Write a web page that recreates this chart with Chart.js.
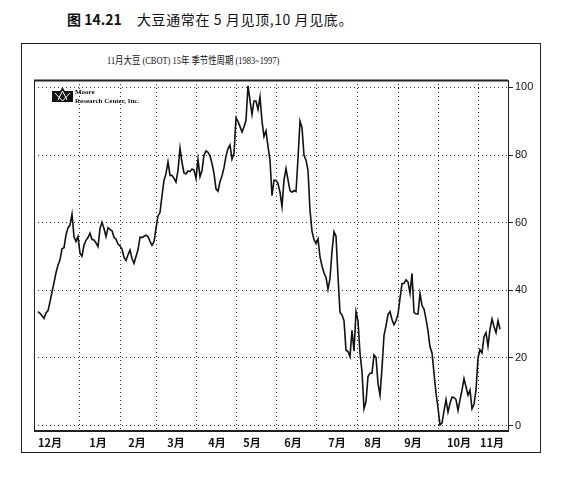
<!DOCTYPE html>
<html>
<head>
<meta charset="utf-8">
<script src="https://cdn.jsdelivr.net/npm/chart.js@4/dist/chart.umd.min.js"></script>
<style>
  html, body { margin: 0; padding: 0; background: #fff; }
  body { width: 566px; height: 481px; position: relative; overflow: hidden; }
  .head { position: absolute; top: 11px; font-size: 14px; line-height: 16px; font-family: "Noto Sans CJK SC", sans-serif; color: #111; white-space: pre; }
  #box { position: absolute; left: 21px; top: 43px; width: 518px; height: 408px; border: 1.5px solid #222; }
  #subtitle { position: absolute; left: 107px; top: 55px; font-size: 10px; line-height: 12px; font-family: "Liberation Serif", "Noto Sans CJK SC", serif; color: #111; white-space: pre; transform: scaleX(0.84); transform-origin: left top; }
  #wrap { position: absolute; left: 21px; top: 43px; width: 520px; height: 410px; }
</style>
</head>
<body>
<div class="head" style="left:67px;font-weight:bold;">图 14.21</div>
<div class="head" style="left:137px;letter-spacing:0.6px;">大豆通常在 5 月见顶,10 月见底。</div>
<div id="box"></div>
<div id="subtitle">11月大豆 (CBOT) 15年 季节性周期 (1983~1997)</div>
<div id="wrap"><canvas id="seasonal-soybeans"></canvas></div>
<script>
// month names under the axis, and where they sit (trading day index)
const months = ['12月', '1月', '2月', '3月', '4月', '5月', '6月', '7月', '8月', '9月', '10月', '11月'];
const monthLabelDay = [6, 30, 49.5, 69, 89.5, 107, 127.5, 149.5, 167.5, 187.5, 210.5, 227];
// first trading day of each month -> vertical grid lines
const monthStartDay = [20.5, 41, 59, 79, 99, 119.5, 139, 159.5, 180, 200, 220];
const yTicks = [0, 20, 40, 60, 80, 100];

// seasonal index, 0 = yearly low, 100 = yearly high
const seasonalIndex = [
  33.7, 33.2, 32.5, 31.7, 33.3, 34, 36.6, 39.5, 42.3, 45.2,
  47.4, 49, 52.3, 52.6, 56.4, 58.5, 59.3, 62.5, 55.9, 54.4,
  55.9, 51, 50.1, 53.4, 54.8, 55.6, 56.9, 55, 54.9, 54,
  52.9, 58.3, 60.1, 58.3, 55.9, 58.5, 58, 57.6, 55.7, 55.1,
  53.7, 53.1, 52.2, 49.7, 48.8, 50.5, 51.9, 49.4, 48, 50,
  52, 55.7, 55.6, 56, 56.3, 55.9, 54.5, 53.3, 54.4, 58.3,
  62, 63, 68, 72.5, 74.5, 78, 74, 74, 73.1, 72,
  75.5, 82, 77.8, 74.7, 74.4, 75.3, 75.1, 75.9, 75.6, 73.1,
  78.7, 73.6, 75.4, 80, 81.2, 80.8, 79.8, 77.5, 74.6, 70,
  69.3, 72.1, 73.9, 76.3, 79.7, 81.9, 83, 78.8, 80.5, 91,
  89.9, 88.4, 86.8, 88.3, 90.3, 100.5, 96.2, 92, 96, 96,
  93.5, 97.2, 90, 85.5, 87.2, 82.5, 78.5, 68, 72.6, 72.5,
  71.6, 69, 64.8, 72.6, 76, 72.7, 69.5, 69, 69.5, 69.2,
  79, 90, 88.1, 80, 78.5, 75.5, 63.7, 57.5, 55, 53.9,
  55.2, 49.9, 47.2, 45.1, 43.8, 40.3, 43.5, 51.5, 57.3, 56,
  44, 33.5, 32.7, 31, 22.3, 21.9, 20.4, 28.2, 22, 33.7,
  31, 21.4, 16, 5, 7.1, 14.5, 15.5, 15.5, 20.9, 20.2,
  12.5, 9, 17, 26.7, 29.5, 32.8, 33.7, 31.4, 29.8, 31,
  33, 37.6, 42, 42, 43.1, 42.5, 39.1, 45, 33.5, 33,
  33, 39.1, 35.5, 34.5, 31.5, 28, 23.3, 21.5, 15.5, 9.6,
  5.2, 0.2, 0.8, 4.3, 7.7, 4, 6.6, 8.4, 8.3, 7.7,
  4.5, 7.6, 10.5, 13.9, 11.5, 9, 10.5, 5, 6.3, 10.5,
  20, 22.4, 21.5, 26.3, 27.5, 23.5, 28.5, 31.5, 29.3, 27.5,
  31, 28.5
];

const dayMin = -2, dayMax = 235;

// plot frame + little Moore Research logo
const frameAndLogo = {
  id: 'frameAndLogo',
  beforeDatasetsDraw(chart) {
    const c = chart.ctx, a = chart.chartArea;
    c.save();
    c.strokeStyle = '#222';
    c.lineWidth = 1;
    c.strokeRect(a.left + 0.5, a.top + 0.5, a.right - a.left, a.bottom - a.top);
    c.lineWidth = 2;
    c.beginPath();
    c.moveTo(a.left, a.top + 0.5);
    c.lineTo(a.right, a.top + 0.5);
    c.moveTo(a.left, a.bottom);
    c.lineTo(a.right, a.bottom);
    c.stroke();
    c.restore();
  },
  afterDraw(chart) {
    const c = chart.ctx, a = chart.chartArea;
    const x = a.left + 18, y = a.top + 7;
    c.save();
    c.fillStyle = '#111';
    c.fillRect(x, y + 4, 21, 11);
    c.beginPath();
    c.moveTo(x + 2, y + 15);
    c.lineTo(x + 10.5, y);
    c.lineTo(x + 19, y + 15);
    c.closePath();
    c.fill();
    c.strokeStyle = '#fff';
    c.lineWidth = 1;
    c.beginPath();
    c.moveTo(x + 3, y + 6);
    c.lineTo(x + 10.5, y + 14);
    c.lineTo(x + 18, y + 6);
    c.moveTo(x + 6, y + 13);
    c.lineTo(x + 10.5, y + 4);
    c.lineTo(x + 15, y + 13);
    c.stroke();
    c.fillStyle = '#111';
    c.font = 'bold 7px "Liberation Serif"';
    c.textBaseline = 'alphabetic';
    c.fillText('Moore', x + 23, y + 7);
    c.fillText('Research Center, Inc.', x + 23, y + 15.5);
    c.restore();
  }
};

const ctx = document.getElementById('seasonal-soybeans').getContext('2d');

const soyChart = new Chart(ctx, {
  type: 'line',
  data: {
    datasets: [{
      label: '11月大豆',
      data: seasonalIndex.map((v, i) => ({ x: i, y: v })),
      borderColor: '#111',
      borderWidth: 1.6,
      pointRadius: 0,
      tension: 0,
      fill: false
    }]
  },
  options: {
    responsive: true,
    maintainAspectRatio: false,
    animation: false,
    layout: { padding: { left: 13, top: 37, right: 0, bottom: 0 } },
    scales: {
      x: {
        type: 'linear',
        min: dayMin,
        max: dayMax,
        afterBuildTicks: s => { s.ticks = monthStartDay.map(v => ({ value: v })); },
        ticks: { display: false },
        grid: { color: '#333', lineWidth: 1, drawTicks: false },
        border: { display: false, dash: [1, 3] },
        afterFit: s => { s.height = 0; }
      },
      x2: {
        type: 'linear',
        position: 'bottom',
        min: dayMin,
        max: dayMax,
        afterBuildTicks: s => { s.ticks = monthLabelDay.map(v => ({ value: v })); },
        ticks: {
          autoSkip: false,
          maxRotation: 0,
          padding: 5,
          color: '#111',
          font: { family: 'Noto Sans CJK SC', size: 11, weight: 'bold' },
          callback: (v, i) => months[i]
        },
        grid: { display: false, drawTicks: false },
        border: { display: false },
        afterFit: s => { s.height = 22; }
      },
      y: {
        position: 'right',
        min: -1.6,
        max: 102.2,
        afterBuildTicks: s => { s.ticks = yTicks.map(v => ({ value: v })); },
        ticks: {
          padding: 2,
          color: '#111',
          font: { family: 'Liberation Sans', size: 11 }
        },
        grid: { color: '#333', lineWidth: 1, tickLength: 5, tickColor: '#222', tickBorderDash: [] },
        border: { display: false, dash: [1, 3] },
        afterFit: s => { s.width = 33; }
      }
    },
    plugins: {
      legend: { display: false },
      tooltip: { enabled: false }
    }
  },
  plugins: [frameAndLogo]
});
</script>
</body>
</html>
